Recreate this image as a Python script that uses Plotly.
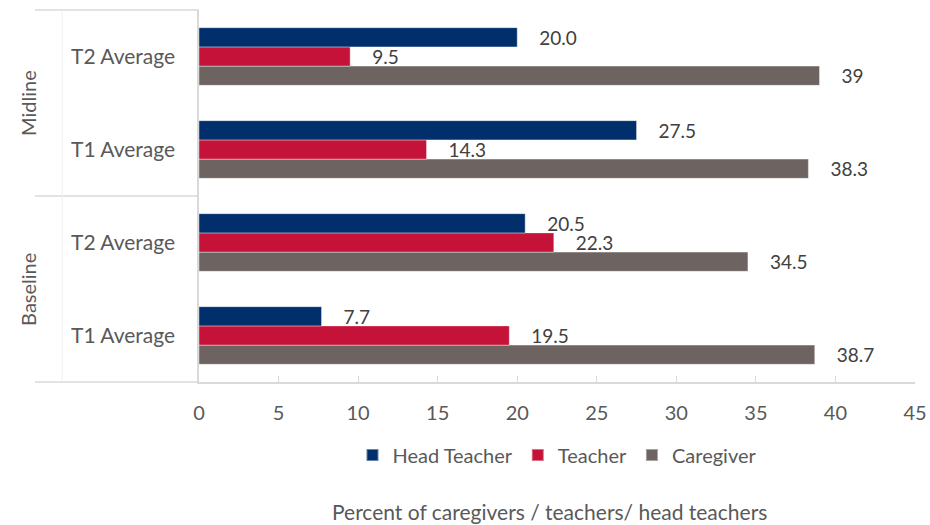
import plotly.graph_objects as go

# categories, bottom to top
phases = ["Baseline", "Baseline", "Midline", "Midline"]
tests = ["T1 Average", "T2 Average", "T1 Average", "T2 Average"]

head_teacher = [7.7, 20.5, 27.5, 20.0]
teacher = [19.5, 22.3, 14.3, 9.5]
caregiver = [38.7, 34.5, 38.3, 39]

head_teacher_text = ["7.7", "20.5", "27.5", "20.0"]
teacher_text = ["19.5", "22.3", "14.3", "9.5"]
caregiver_text = ["38.7", "34.5", "38.3", "39"]

x_ticks = [0, 5, 10, 15, 20, 25, 30, 35, 40, 45]

keys = [p + " " + t for p, t in zip(phases, tests)]

FONT = "Lato, 'Open Sans', sans-serif"
GREY_TEXT = "#404040"
GREY = "#595959"
LINE = "#d9d9d9"

fig = go.Figure()

# plotly draws the first trace at the bottom of each group
series = [
    ("Caregiver", caregiver, caregiver_text, "#6d6462"),
    ("Teacher", teacher, teacher_text, "#c41238"),
    ("Head Teacher", head_teacher, head_teacher_text, "#002f6c"),
]
for name, vals, txt, color in series:
    fig.add_trace(go.Bar(
        y=keys, x=vals, name=name, orientation="h",
        marker=dict(color=color, line=dict(color="rgba(255,255,255,0.4)", width=1)),
        text=txt, texttemplate="\u2002\u2002%{text}", textposition="outside",
        cliponaxis=False,
        textfont=dict(size=19, color=GREY_TEXT, family=FONT),
    ))

fig.update_layout(
    width=930, height=525,
    margin=dict(l=199, r=15, t=10, b=143),
    barmode="group", bargap=0.38, bargroupgap=0,
    plot_bgcolor="white", paper_bgcolor="white",
    font=dict(family=FONT, size=19, color=GREY),
    legend=dict(orientation="h", x=0.5, xanchor="center", y=-0.196, yanchor="middle",
                traceorder="reversed", font=dict(size=20, color=GREY),
                itemwidth=30, itemsizing="constant"),
    uniformtext=dict(minsize=19, mode="show"),
)

fig.update_xaxes(
    range=[0, 45], tickvals=x_ticks, showgrid=False, zeroline=False,
    showline=True, linecolor=LINE, linewidth=1.5, automargin=False,
    ticks="inside", ticklen=6, tickcolor=LINE,
    ticklabelstandoff=12, tickfont=dict(size=20, color=GREY),
)
fig.update_yaxes(
    type="category", categoryarray=keys, tickvals=keys, ticktext=tests,
    showgrid=False, showline=True, linecolor=LINE, linewidth=1.5, automargin=False,
    ticks="", ticklabelstandoff=18, tickfont=dict(size=21, color=GREY),
)

# group labels on the left
for label, ypos in [("Midline", 2.5), ("Baseline", 0.5)]:
    fig.add_annotation(text=label, xref="paper", yref="y", x=-0.239, y=ypos,
                       xanchor="center", yanchor="middle",
                       textangle=-90, showarrow=False,
                       font=dict(size=20, color=GREY))

# divider lines for the group axis
for ypos in [1, 0]:
    fig.add_shape(type="line", xref="paper", yref="paper", x0=-0.229, x1=0,
                  y0=ypos, y1=ypos, line=dict(color=LINE, width=1.5))
fig.add_shape(type="line", xref="paper", yref="y", x0=-0.229, x1=0,
              y0=1.5, y1=1.5, line=dict(color=LINE, width=1.5))
fig.add_shape(type="line", xref="paper", yref="paper", x0=-0.191, x1=-0.191,
              y0=0, y1=1, line=dict(color="#f0f0f0", width=1))

fig.add_annotation(text="Percent of caregivers / teachers/ head teachers",
                   xref="paper", yref="paper", x=0.49, y=-0.347,
                   xanchor="center", yanchor="middle", showarrow=False,
                   font=dict(size=21, color=GREY))

fig.write_html("out.html", config={"displayModeBar": False},
               post_script="document.body.style.margin='0';")
